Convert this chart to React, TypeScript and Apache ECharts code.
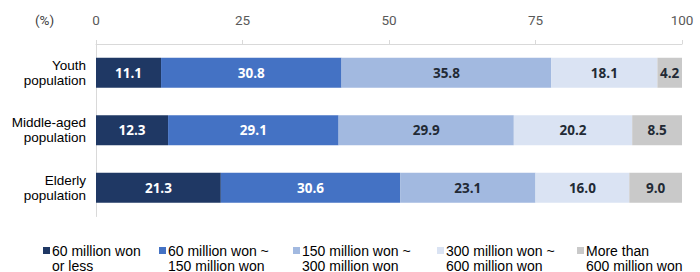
import React, { useEffect, useRef } from "react";
import * as echarts from "echarts";

const categories = ["Youth\npopulation", "Middle-aged\npopulation", "Elderly\npopulation"];
const seriesNames = [
  "60 million won\nor less",
  "60 million won ~\n150 million won",
  "150 million won ~\n300 million won",
  "300 million won ~\n600 million won",
  "More than\n600 million won",
];
const s1 = [11.1, 12.3, 21.3];
const s2 = [30.8, 29.1, 30.6];
const s3 = [35.8, 29.9, 23.1];
const s4 = [18.1, 20.2, 16.0];
const s5 = [4.2, 8.5, 9.0];
const seriesValues = [s1, s2, s3, s4, s5];
const xTicks = [0, 25, 50, 75, 100];

const colors = ["#1F3864", "#4472C4", "#A2B9E0", "#DAE3F3", "#C9C9C9"];
const labelColors = ["#FFFFFF", "#FFFFFF", "#222A35", "#222A35", "#222A35"];
const legendLefts = [43, 159, 293, 437, 577];

const iconPath = "path://M0,0h10v10h-10z M0,31.3h0.1v0.1h-0.1z";

export default function App() {
  const ref = useRef<HTMLDivElement>(null);
  useEffect(() => {
    if (!ref.current) return;
    const chart = echarts.init(ref.current, null, { renderer: "svg" });
    chart.setOption({
      animation: false,
      grid: { left: 96, right: 18, top: 44, bottom: 55.5, containLabel: false },
      xAxis: {
        type: "value",
        position: "top",
        min: xTicks[0],
        max: xTicks[xTicks.length - 1],
        interval: 25,
        axisLine: { show: true, lineStyle: { color: "#D9D9D9", width: 1 } },
        axisTick: { show: true, length: 4, lineStyle: { color: "#D9D9D9" } },
        splitLine: { show: false },
        axisLabel: {
          color: "#595959",
          fontSize: 13.5,
          fontFamily: "Roboto, 'Liberation Sans', sans-serif",
          margin: 17,
        },
      },
      yAxis: {
        type: "category",
        data: categories,
        inverse: true,
        axisLine: { show: true, lineStyle: { color: "#D9D9D9", width: 1 } },
        axisTick: { show: false },
        axisLabel: {
          color: "#000000",
          fontSize: 13.5,
          fontFamily: "'Liberation Sans', Arial, sans-serif",
          lineHeight: 15,
          align: "right",
          margin: 10,
        },
      },
      legend: seriesNames.map((name, i) => ({
        data: [name],
        left: legendLefts[i],
        top: 243,
        padding: 0,
        itemWidth: 7,
        itemHeight: 22,
        icon: iconPath,
        textStyle: {
          color: "#000000",
          fontSize: 14,
          lineHeight: 15,
          fontFamily: "'Liberation Sans', Arial, sans-serif",
          padding: [0, 0, 0, -3],
        },
      })),
      graphic: [
        {
          type: "text",
          left: 35,
          top: 13,
          style: {
            text: "(%)",
            fill: "#404040",
            fontSize: 13.5,
            fontFamily: "Roboto, 'Liberation Sans', sans-serif",
          },
        },
      ],
      series: seriesValues.map((vals, i) => ({
        name: seriesNames[i],
        type: "bar",
        stack: "total",
        data: vals,
        barWidth: 30,
        itemStyle: { color: colors[i] },
        label: {
          show: true,
          position: "inside",
          color: labelColors[i],
          fontSize: 13.5,
          fontWeight: "bold",
          fontFamily: "'Open Sans', sans-serif",
          formatter: (p: any) => Number(p.value).toFixed(1),
        },
      })),
    });
    return () => chart.dispose();
  }, []);
  return (
    <div
      ref={ref}
      style={{ position: "absolute", left: 0, top: 0, width: 700, height: 272 }}
    />
  );
}
